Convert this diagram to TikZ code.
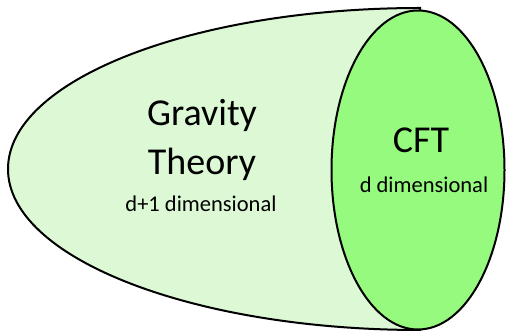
\documentclass[tikz,border=0pt]{standalone}
\usepackage{fontspec}
\setmainfont{Carlito}
\usepackage{xcolor}
\usepackage{tikz}

\definecolor{bulkcolor}{RGB}{220,248,212}
\definecolor{edgecolor}{RGB}{150,250,126}

\tikzset{
  bigtext/.style={anchor=base, inner sep=0pt, font=\fontsize{38}{46}\selectfont},
  smalltext/.style={anchor=base, inner sep=0pt, font=\fontsize{22.5}{27}\selectfont},
}

\begin{document}
\begin{tikzpicture}[x=1pt,y=1pt]

\useasboundingbox (0,0) rectangle (506,331);

\filldraw[fill=bulkcolor, line width=2pt] (420,323) arc[start angle=90, end angle=270, x radius=412, y radius=161] -- cycle;

\filldraw[fill=edgecolor, line width=2pt] (418,161) ellipse [x radius=86.5, y radius=159.5];

\node[bigtext] (gravity) at (202,205) {Gravity};
\node[bigtext] (theory) at (202,156) {Theory};
\node[smalltext] (bulkdim) at (201,119) {d+1 dimensional};

\node[bigtext] (cft) at (421,178) {CFT};
\node[smalltext] (cftdim) at (424,138) {d dimensional};

\end{tikzpicture}
\end{document}
